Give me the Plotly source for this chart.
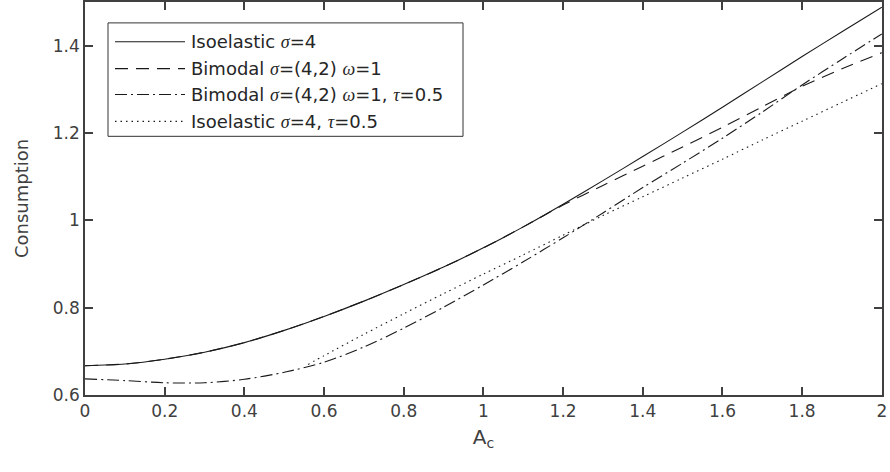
import plotly.graph_objects as go

# ---- data ----
x_main = [0.0, 0.1, 0.2, 0.3, 0.4, 0.5, 0.6, 0.7, 0.8, 0.9, 1.0,
          1.1, 1.2, 1.3, 1.4, 1.5, 1.6, 1.7, 1.8, 1.9, 2.0]
iso_s4 = [0.667, 0.671, 0.682, 0.698, 0.720, 0.748, 0.780, 0.815, 0.853, 0.893, 0.937,
          0.985, 1.037, 1.091, 1.146, 1.202, 1.259, 1.317, 1.375, 1.432, 1.488]
bimodal_w1 = [0.667, 0.671, 0.682, 0.698, 0.720, 0.748, 0.780, 0.815, 0.853, 0.893, 0.937,
              0.985, 1.035, 1.080, 1.124, 1.168, 1.213, 1.260, 1.307, 1.347, 1.384]
bimodal_w1_tau = [0.637, 0.633, 0.628, 0.628, 0.636, 0.652, 0.675, 0.710, 0.753, 0.801, 0.852,
                  0.905, 0.960, 1.017, 1.075, 1.131, 1.188, 1.248, 1.310, 1.369, 1.427]
x_iso_tau = [0.56, 0.6, 0.7, 0.8, 0.9, 1.0, 1.1, 1.2, 1.3, 1.4, 1.5, 1.6, 1.7, 1.8, 1.9, 2.0]
iso_s4_tau = [0.670, 0.690, 0.739, 0.786, 0.832, 0.877, 0.921, 0.966, 1.011, 1.054,
              1.097, 1.140, 1.184, 1.227, 1.270, 1.313]

x_ticks = [0, 0.2, 0.4, 0.6, 0.8, 1, 1.2, 1.4, 1.6, 1.8, 2]
x_tick_labels = ["0", "0.2", "0.4", "0.6", "0.8", "1", "1.2", "1.4", "1.6", "1.8", "2"]
y_ticks = [0.6, 0.8, 1.0, 1.2, 1.4]
y_tick_labels = ["0.6", "0.8", "1", "1.2", "1.4"]

SER = '<span style="font-family:\'Liberation Serif\'"><i>{}</i></span>'
sig, om, tau = SER.format("σ"), SER.format("ω"), SER.format("τ")
legend_labels = [
    f"Isoelastic {sig}=4",
    f"Bimodal {sig}=(4,2) {om}=1",
    f"Bimodal {sig}=(4,2) {om}=1, {tau}=0.5",
    f"Isoelastic {sig}=4, {tau}=0.5",
]

DASHES = ["solid", "13px,8px", "12px,4px,2px,4px", "1.5px,4px"]
LINE_COLOR = "#1a1a1a"
AX_COLOR = "#404040"
FONT = "DejaVu Sans, Liberation Sans, Arial"

series = [
    (x_main, iso_s4),
    (x_main, bimodal_w1),
    (x_main, bimodal_w1_tau),
    (x_iso_tau, iso_s4_tau),
]

fig = go.Figure()
for (xs, ys), dash, name in zip(series, DASHES, legend_labels):
    fig.add_trace(go.Scatter(
        x=xs, y=ys, mode="lines", name=name, showlegend=False,
        line=dict(color=LINE_COLOR, width=1.1, dash=dash, shape="spline", smoothing=0.8),
    ))

W, H = 890, 472
ML, MR, MT, MB = 85, 8, 0, 77
pw, ph = W - ML - MR, H - MT - MB

def px_to_paper(px, py):
    return (px - ML) / pw, 1 - (py - MT) / ph

# manual legend (MATLAB-style, long line samples)
shapes = []
annotations = []
bx0, by0 = px_to_paper(108, 21)
bx1, by1 = px_to_paper(463, 135)
shapes.append(dict(type="rect", xref="paper", yref="paper", x0=bx0, y0=by1, x1=bx1, y1=by0,
                   line=dict(color="#333333", width=1), fillcolor="white", layer="above"))
row_y = [40, 67, 93, 120]
for ry, dash, label in zip(row_y, DASHES, legend_labels):
    lx0, ly = px_to_paper(115, ry)
    lx1, _ = px_to_paper(185, ry)
    shapes.append(dict(type="line", xref="paper", yref="paper", x0=lx0, x1=lx1, y0=ly, y1=ly,
                       line=dict(color=LINE_COLOR, width=1.1, dash=dash), layer="above"))
    tx, _ = px_to_paper(189, ry)
    annotations.append(dict(xref="paper", yref="paper", x=tx, y=ly, text=label, showarrow=False,
                            xanchor="left", yanchor="middle",
                            font=dict(family=FONT, size=18, color="#262626")))

axis_common = dict(
    showgrid=False, zeroline=False, showline=True, linecolor=AX_COLOR, linewidth=1.5,
    mirror="ticks", ticks="inside", ticklen=8, tickwidth=1.5, tickcolor=AX_COLOR,
    tickfont=dict(family=FONT, size=17, color=AX_COLOR),
    ticklabeloverflow="allow",
)

fig.update_layout(
    width=W, height=H,
    margin=dict(l=ML, r=MR, t=MT, b=MB),
    paper_bgcolor="white", plot_bgcolor="white",
    xaxis=dict(range=[0, 2.0005], tickvals=x_ticks, ticktext=x_tick_labels,
               title=dict(text="A<sub>c</sub>", standoff=10,
                          font=dict(family=FONT, size=20, color=AX_COLOR)),
               **axis_common),
    yaxis=dict(range=[0.6, 1.5], tickvals=y_ticks, ticktext=y_tick_labels,
               title=dict(text="Consumption", standoff=20,
                          font=dict(family=FONT, size=18, color=AX_COLOR)),
               **axis_common),
    shapes=shapes,
    annotations=annotations,
    showlegend=False,
)

fig.write_html("out.html", config={"displayModeBar": False},
               post_script="document.body.style.margin='0';")
